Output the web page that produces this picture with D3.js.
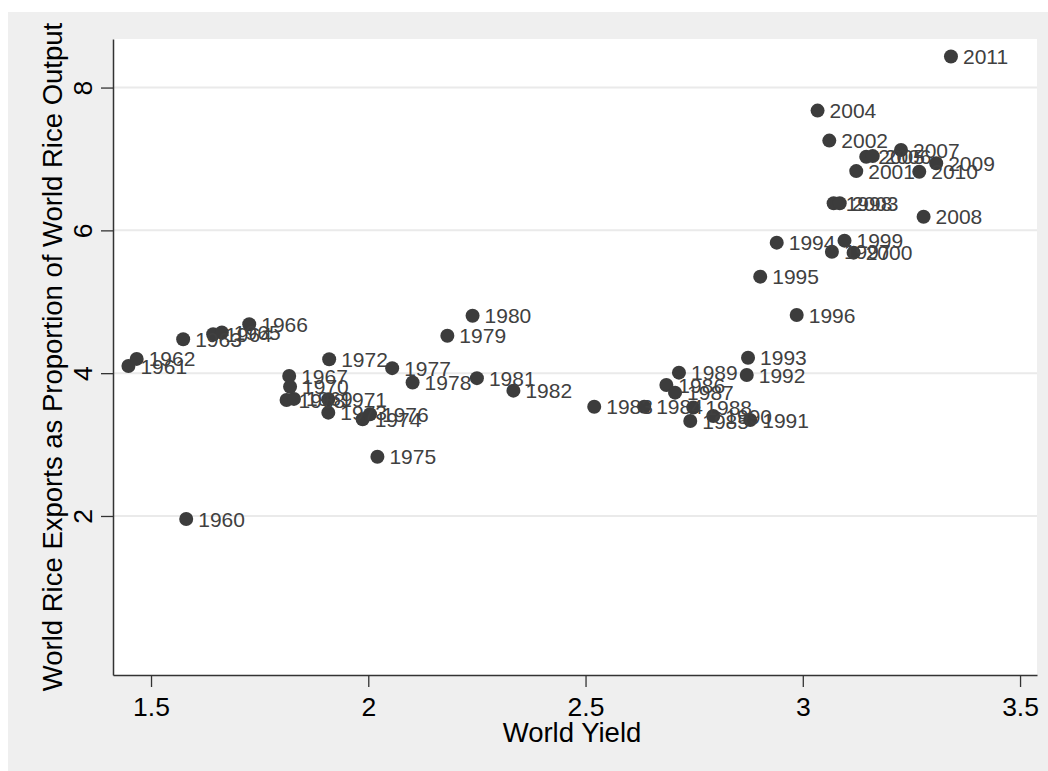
<!DOCTYPE html>
<html>
<head>
<meta charset="utf-8">
<script src="https://cdn.jsdelivr.net/npm/d3@7"></script>
<style>
  body { margin: 0; background: #fff; }
  svg { display: block; font-family: "Liberation Sans", Arial, sans-serif; }
</style>
</head>
<body>
<svg></svg>
<script>
const svgWidth = 1048;
const svgHeight = 771;

// plot region (white area)
const plotLeft = 113;
const plotRight = 1037;
const plotTop = 39;
const plotBottom = 675;

// data
const years = [
	1960, 1961, 1962, 1963, 1964, 1965, 1966, 1967, 1968, 1969,
	1970, 1971, 1972, 1973, 1974, 1975, 1976, 1977, 1978, 1979,
	1980, 1981, 1982, 1983, 1984, 1985, 1986, 1987, 1988, 1989,
	1990, 1991, 1992, 1993, 1994, 1995, 1996, 1997, 1998, 1999,
	2000, 2001, 2002, 2003, 2004, 2005, 2006, 2007, 2008, 2009,
	2010, 2011
];
const worldYield = [
	1.581, 1.448, 1.467, 1.574, 1.643, 1.663, 1.726, 1.818, 1.812, 1.829,
	1.820, 1.908, 1.910, 1.908, 1.987, 2.021, 2.004, 2.055, 2.102, 2.182,
	2.240, 2.250, 2.334, 2.520, 2.635, 2.741, 2.686, 2.706, 2.748, 2.715,
	2.794, 2.879, 2.871, 2.874, 2.940, 2.902, 2.986, 3.067, 3.071, 3.096,
	3.117, 3.123, 3.061, 3.085, 3.034, 3.146, 3.161, 3.226, 3.278, 3.307,
	3.268, 3.341
];
const exportShare = [
	1.958, 4.100, 4.200, 4.475, 4.545, 4.570, 4.685, 3.960, 3.625, 3.640,
	3.810, 3.635, 4.195, 3.447, 3.354, 2.830, 3.424, 4.070, 3.870, 4.525,
	4.805, 3.930, 3.755, 3.530, 3.530, 3.330, 3.835, 3.727, 3.520, 4.007,
	3.400, 3.345, 3.975, 4.217, 5.828, 5.352, 4.815, 5.700, 6.380, 5.856,
	5.688, 6.830, 7.257, 6.380, 7.677, 7.030, 7.040, 7.126, 6.190, 6.940,
	6.820, 8.434
];
const xTicks = [1.5, 2, 2.5, 3, 3.5];
const yTicks = [2, 4, 6, 8];

const xLabel = "World Yield";
const yLabel = "World Rice Exports as Proportion of World Rice Output";

const svg = d3.select("svg")
	.attr("width", svgWidth)
	.attr("height", svgHeight);

const points = years.map((yr, i) => ({ year: yr, x: worldYield[i], y: exportShare[i] }));

const xScale = d3.scaleLinear()
	.domain([1.4125, 3.539])
	.range([plotLeft, plotRight]);
const yScale = d3.scaleLinear()
	.domain([-0.227, 8.68])
	.range([plotBottom, plotTop]);

// outer gray background
svg.append("rect")
	.attr("x", 8)
	.attr("y", 12)
	.attr("width", svgWidth - 8)
	.attr("height", svgHeight - 12)
	.attr("fill", "#efefef");

// plot area
svg.append("rect")
	.attr("x", plotLeft)
	.attr("y", plotTop)
	.attr("width", plotRight - plotLeft)
	.attr("height", plotBottom - plotTop)
	.attr("fill", "#ffffff");

// horizontal grid lines
svg.append("g")
	.selectAll("line")
	.data(yTicks)
	.enter()
	.append("line")
	.attr("x1", plotLeft)
	.attr("x2", plotRight)
	.attr("y1", d => yScale(d))
	.attr("y2", d => yScale(d))
	.attr("stroke", "#eaeaea")
	.attr("stroke-width", 2);

// axes
const xAxis = d3.axisBottom(xScale)
	.tickValues(xTicks)
	.tickFormat(d3.format("~g"))
	.tickSize(12)
	.tickSizeOuter(0)
	.tickPadding(10);
const yAxis = d3.axisLeft(yScale)
	.tickValues(yTicks)
	.tickFormat(d3.format("~g"))
	.tickSize(12)
	.tickSizeOuter(0);

const gx = svg.append("g")
	.attr("transform", `translate(0, ${plotBottom})`)
	.call(xAxis);
const gy = svg.append("g")
	.attr("transform", `translate(${plotLeft}, 0)`)
	.call(yAxis);

[gx, gy].forEach(g => {
	g.select(".domain").attr("stroke", "#333").attr("stroke-width", 1.5);
	g.selectAll(".tick line").attr("stroke", "#333").attr("stroke-width", 1.3);
	g.selectAll(".tick text")
		.attr("fill", "#000")
		.attr("font-size", 26.5)
		.attr("font-family", "Liberation Sans, Arial, sans-serif");
});

// rotated y tick labels
gy.selectAll(".tick text")
	.attr("transform", "rotate(-90)")
	.attr("x", 0)
	.attr("y", -21)
	.attr("dy", 0)
	.attr("text-anchor", "middle");

// points
svg.append("g")
	.selectAll("circle")
	.data(points)
	.enter()
	.append("circle")
	.attr("cx", d => xScale(d.x))
	.attr("cy", d => yScale(d.y))
	.attr("r", 7)
	.attr("fill", "#3c3c3c");

// year labels
svg.append("g")
	.selectAll("text")
	.data(points)
	.enter()
	.append("text")
	.text(d => d.year)
	.attr("x", d => xScale(d.x) + 12)
	.attr("y", d => yScale(d.y))
	.attr("dy", "0.36em")
	.attr("font-size", 21)
	.attr("fill", "#404040");

// axis titles
svg.append("text")
	.text(xLabel)
	.attr("x", (plotLeft + plotRight) / 2 - 3)
	.attr("y", 742)
	.attr("font-size", 27.5)
	.attr("text-anchor", "middle")
	.attr("fill", "#000");

svg.append("text")
	.text(yLabel)
	.attr("transform", "rotate(-90)")
	.attr("x", -(plotTop + plotBottom) / 2)
	.attr("y", 62)
	.attr("font-size", 27.5)
	.attr("text-anchor", "middle")
	.attr("fill", "#000");
</script>
</body>
</html>
